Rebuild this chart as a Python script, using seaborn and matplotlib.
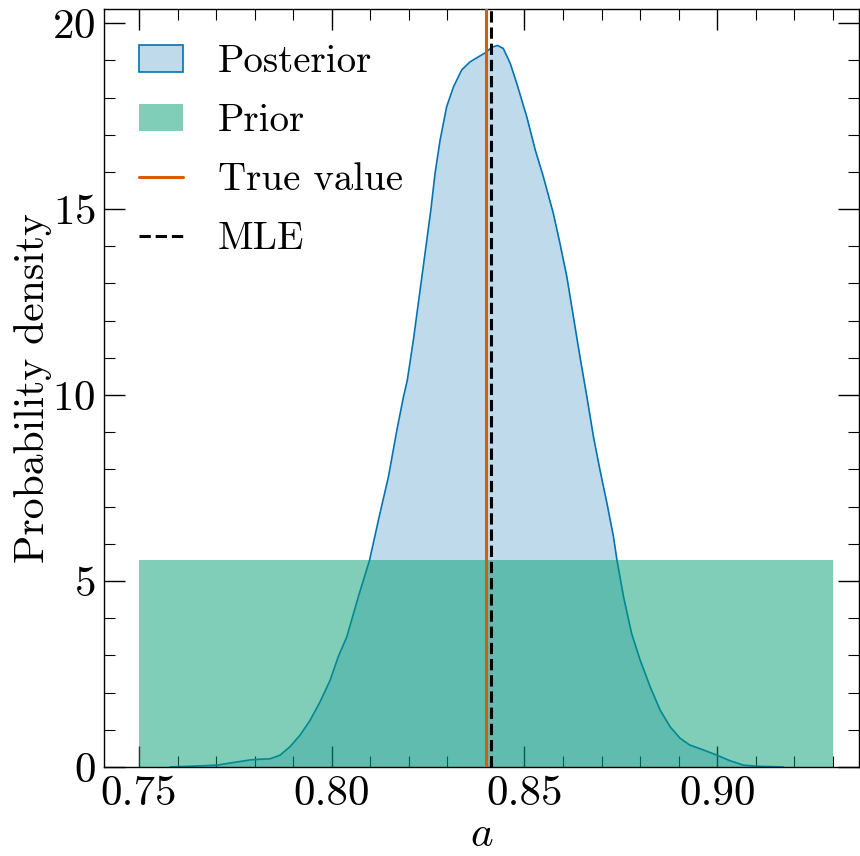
"""Posterior vs prior density for the parameter a."""

import matplotlib

matplotlib.use("Agg")
import matplotlib.patches as mpatches
import matplotlib.pyplot as plt
from matplotlib.lines import Line2D
from matplotlib.ticker import MultipleLocator
import seaborn as sns

# posterior density
post_x = [0.758, 0.7658, 0.7702, 0.7745, 0.7788, 0.7814, 0.784, 0.7866,
          0.7892, 0.7918, 0.7944, 0.797, 0.7996, 0.8017, 0.8039, 0.8069,
          0.8098, 0.8125, 0.8147, 0.8169, 0.8186, 0.8196, 0.8212, 0.8238,
          0.8257, 0.8268, 0.8281, 0.8298, 0.8316, 0.8337, 0.8359, 0.838,
          0.8398, 0.8415, 0.843, 0.8445, 0.8463, 0.848, 0.8506, 0.8528,
          0.8549, 0.8575, 0.8592, 0.861, 0.8627, 0.8644, 0.8662, 0.8679,
          0.8696, 0.8714, 0.8731, 0.874, 0.8757, 0.8778, 0.880, 0.8826,
          0.8852, 0.8878, 0.8904, 0.8929, 0.8964, 0.8999, 0.9033, 0.9068,
          0.9103, 0.9172]
post_y = [0.0, 0.03, 0.05, 0.12, 0.19, 0.21, 0.22, 0.32,
          0.55, 0.86, 1.26, 1.76, 2.34, 2.97, 3.50, 4.58,
          5.56, 6.82, 7.80, 9.06, 9.95, 10.4, 11.5, 13.5,
          14.97, 15.96, 16.85, 17.75, 18.29, 18.74, 18.96, 19.09,
          19.2, 19.35, 19.40, 19.32, 18.92, 18.38, 17.48, 16.59,
          15.87, 14.88, 14.08, 13.18, 12.1, 11.03, 9.95, 8.88,
          7.98, 7.09, 6.19, 5.56, 4.58, 3.59, 2.88, 2.16,
          1.53, 1.08, 0.77, 0.59, 0.46, 0.32, 0.17, 0.05,
          0.02, 0.0]

# uniform prior bounds
prior_low, prior_high = 0.75, 0.93
true_value = 0.840
mle_value = 0.8413

sns.set_theme(style="ticks")
plt.rcParams.update({
    "font.family": "serif",
    "font.serif": ["cmr10"],
    "mathtext.fontset": "cm",
    "axes.formatter.use_mathtext": True,
    "font.size": 31,
    "axes.labelsize": 31,
    "xtick.labelsize": 31,
    "ytick.labelsize": 31,
    "legend.fontsize": 28,
    "text.color": "black",
    "axes.labelcolor": "black",
    "axes.linewidth": 1.0,
    "xtick.direction": "in",
    "ytick.direction": "in",
    "xtick.top": True,
    "ytick.right": True,
    "xtick.major.size": 15,
    "ytick.major.size": 15,
    "xtick.minor.size": 8,
    "ytick.minor.size": 8,
    "xtick.major.width": 1.0,
    "ytick.major.width": 1.0,
    "xtick.minor.width": 0.8,
    "ytick.minor.width": 0.8,
    "xtick.major.pad": 6,
    "ytick.major.pad": 6,
    "xtick.color": "black",
    "ytick.color": "black",
    "axes.edgecolor": "black",
})

palette = sns.color_palette("colorblind")
c_post, c_prior, c_true = palette[0], palette[2], palette[3]

fig, ax = plt.subplots(figsize=(8.6, 8.56), dpi=100)
fig.subplots_adjust(left=104 / 860, right=859 / 860, bottom=1 - 767 / 856, top=1 - 9 / 856)

ax.fill_between(post_x, post_y, color=c_post, alpha=0.25, linewidth=0, zorder=1)
sns.lineplot(x=post_x, y=post_y, color=c_post, linewidth=1.2, ax=ax, zorder=2)

prior_density = 1.0 / (prior_high - prior_low)
ax.fill_between([prior_low, prior_high], [prior_density, prior_density],
                color=c_prior, alpha=0.5, linewidth=0, zorder=2.5)

ax.axvline(true_value, color=c_true, linewidth=2.2, zorder=3)
ax.axvline(mle_value, color="black", linestyle="--", linewidth=2.2, zorder=3)

ax.xaxis.set_major_locator(MultipleLocator(0.05))
ax.xaxis.set_minor_locator(MultipleLocator(0.01))
ax.yaxis.set_major_locator(MultipleLocator(5))
ax.yaxis.set_minor_locator(MultipleLocator(1))
ax.tick_params(which="both", top=True, right=True, direction="in")
ax.set_xlim(0.7409, 0.9368)
ax.set_xticks(ax.get_xticks())
ax.set_xticklabels([f"{t:.2f}" for t in ax.get_xticks()])
ax.set_xlim(0.7409, 0.9368)
ax.set_ylim(0, 20.38)

ax.set_xlabel("$a$", labelpad=3)
ax.set_ylabel("Probability density", fontsize=30, labelpad=0)

handles = [
    mpatches.Patch(facecolor=(*c_post, 0.25), edgecolor=c_post, linewidth=1.2, label="Posterior"),
    mpatches.Patch(facecolor=c_prior, alpha=0.5, linewidth=0, label="Prior"),
    Line2D([], [], color=c_true, linewidth=2.2, label="True value"),
    Line2D([], [], color="black", linestyle="--", linewidth=2.2, label="MLE"),
]
ax.legend(handles=handles, loc="upper left", frameon=False,
          handlelength=1.13, handletextpad=0.9, labelspacing=0.6)

fig.savefig("out.png", dpi=100)
